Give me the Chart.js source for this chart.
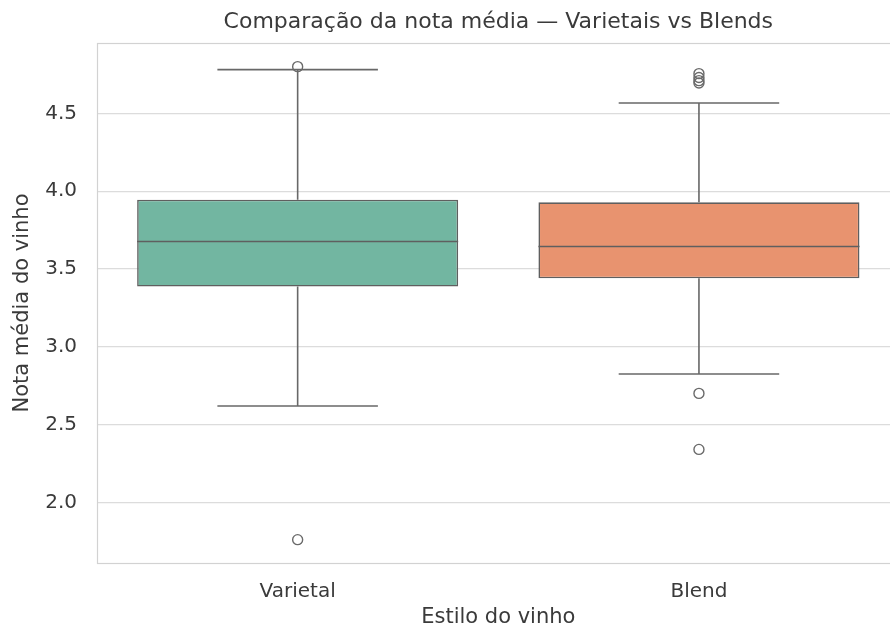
<!DOCTYPE html>
<html>
<head>
<meta charset="utf-8">
<script src="https://cdn.jsdelivr.net/npm/chart.js@4.4.1/dist/chart.umd.min.js"></script>
<style>
  html, body { margin: 0; padding: 0; background: #ffffff; overflow: hidden; width: 890px; height: 633px; }
  #wrap { width: 906px; height: 633px; }
</style>
</head>
<body>
<div id="wrap"><canvas id="chart" width="906" height="633"></canvas></div>
<script>
// Box-plot summary per wine style
const categories = ['Varietal', 'Blend'];
const q1 = [3.387, 3.44];
const median = [3.676, 3.644];
const q3 = [3.945, 3.928];
const whiskerLow = [2.619, 2.825];
const whiskerHigh = [4.781, 4.566];
const outliersVarietal = [4.80, 1.76];
const outliersBlend = [4.755, 4.73, 4.71, 4.695, 2.70, 2.34];
const yTicks = [2.0, 2.5, 3.0, 3.5, 4.0, 4.5];
const boxColors = ['#72b6a1', '#e8936f'];

const FONT = 'DejaVu Sans';
const TEXT = '#3a3a3a';
const LINE = '#686868';

// whiskers, caps and median lines drawn through the chart scales
const boxLines = {
  id: 'boxLines',
  beforeDatasetsDraw(chart) {
    const { ctx, scales: { x, y } } = chart;
    const half = x.width / categories.length / 2;
    ctx.save();
    ctx.strokeStyle = LINE;
    ctx.lineWidth = 1.6;
    categories.forEach((c, i) => {
      const cx = x.getPixelForValue(i);
      const capHalf = half * 0.4;
      ctx.beginPath();
      ctx.moveTo(cx, y.getPixelForValue(q3[i]));
      ctx.lineTo(cx, y.getPixelForValue(whiskerHigh[i]));
      ctx.moveTo(cx, y.getPixelForValue(q1[i]));
      ctx.lineTo(cx, y.getPixelForValue(whiskerLow[i]));
      ctx.moveTo(cx - capHalf, y.getPixelForValue(whiskerHigh[i]));
      ctx.lineTo(cx + capHalf, y.getPixelForValue(whiskerHigh[i]));
      ctx.moveTo(cx - capHalf, y.getPixelForValue(whiskerLow[i]));
      ctx.lineTo(cx + capHalf, y.getPixelForValue(whiskerLow[i]));
      ctx.stroke();
    });
    ctx.restore();
  },
  afterDatasetsDraw(chart) {
    const { ctx, scales: { x, y } } = chart;
    const half = x.width / categories.length / 2;
    ctx.save();
    ctx.strokeStyle = '#5f5f5f';
    ctx.lineWidth = 1.6;
    categories.forEach((c, i) => {
      const cx = x.getPixelForValue(i);
      const bh = half * 0.8;
      const py = y.getPixelForValue(median[i]);
      ctx.beginPath();
      ctx.moveTo(cx - bh, py);
      ctx.lineTo(cx + bh, py);
      ctx.stroke();
    });
    ctx.restore();
  }
};

// light frame around the plotting area
const frame = {
  id: 'frame',
  beforeDatasetsDraw(chart) {
    const { ctx, chartArea: a } = chart;
    ctx.save();
    ctx.strokeStyle = '#d2d2d2';
    ctx.lineWidth = 1.2;
    ctx.strokeRect(Math.round(a.left) + 0.5, Math.round(a.top) + 0.5, a.right - a.left, a.bottom - a.top);
    ctx.restore();
  }
};

new Chart(document.getElementById('chart'), {
  data: {
    labels: categories,
    datasets: [
      {
        type: 'bar',
        data: categories.map((c, i) => [q1[i], q3[i]]),
        backgroundColor: boxColors,
        borderColor: '#5f5f5f',
        borderWidth: 1.6,
        borderSkipped: false,
        barPercentage: 0.8,
        categoryPercentage: 1.0
      },
      {
        type: 'scatter',
        data: outliersVarietal.map(v => ({ x: categories[0], y: v }))
          .concat(outliersBlend.map(v => ({ x: categories[1], y: v }))),
        pointStyle: 'circle',
        pointRadius: 5,
        pointBackgroundColor: 'rgba(255,255,255,0)',
        pointBorderColor: '#6a6a6a',
        pointBorderWidth: 1.4
      }
    ]
  },
  options: {
    responsive: false,
    animation: false,
    devicePixelRatio: 1,
    layout: { padding: { left: 0, right: 4, top: 0, bottom: 0 } },
    plugins: {
      legend: { display: false },
      tooltip: { enabled: false },
      title: {
        display: true,
        fullSize: false,
        text: 'Comparação da nota média — Varietais vs Blends',
        color: TEXT,
        font: { family: FONT, size: 22, weight: 'normal', lineHeight: 1.2 },
        padding: { top: 8.8, bottom: 7.8 }
      }
    },
    scales: {
      x: {
        type: 'category',
        labels: categories,
        offset: true,
        grid: { display: false, drawTicks: false },
        border: { display: false },
        afterFit: s => { s.height = 70; },
        ticks: { padding: 17, color: TEXT, font: { family: FONT, size: 20 } },
        title: {
          display: true,
          text: 'Estilo do vinho',
          color: TEXT,
          font: { family: FONT, size: 21, lineHeight: 1.2 },
          padding: { top: 0, bottom: 2.4 }
        }
      },
      y: {
        type: 'linear',
        min: 1.61,
        max: 4.952,
        afterBuildTicks: s => { s.ticks = yTicks.map(v => ({ value: v })); },
        afterFit: s => { s.width = 97; },
        grid: { color: '#dcdcdc', lineWidth: 1.2, drawTicks: false },
        border: { display: false },
        ticks: {
          padding: 20,
          color: TEXT,
          font: { family: FONT, size: 20 },
          callback: v => Number(v).toFixed(1)
        },
        title: {
          display: true,
          text: 'Nota média do vinho',
          color: TEXT,
          font: { family: FONT, size: 21, lineHeight: 1.2 },
          padding: { top: 10, bottom: 0 }
        }
      }
    }
  },
  plugins: [frame, boxLines]
});
</script>
</body>
</html>
